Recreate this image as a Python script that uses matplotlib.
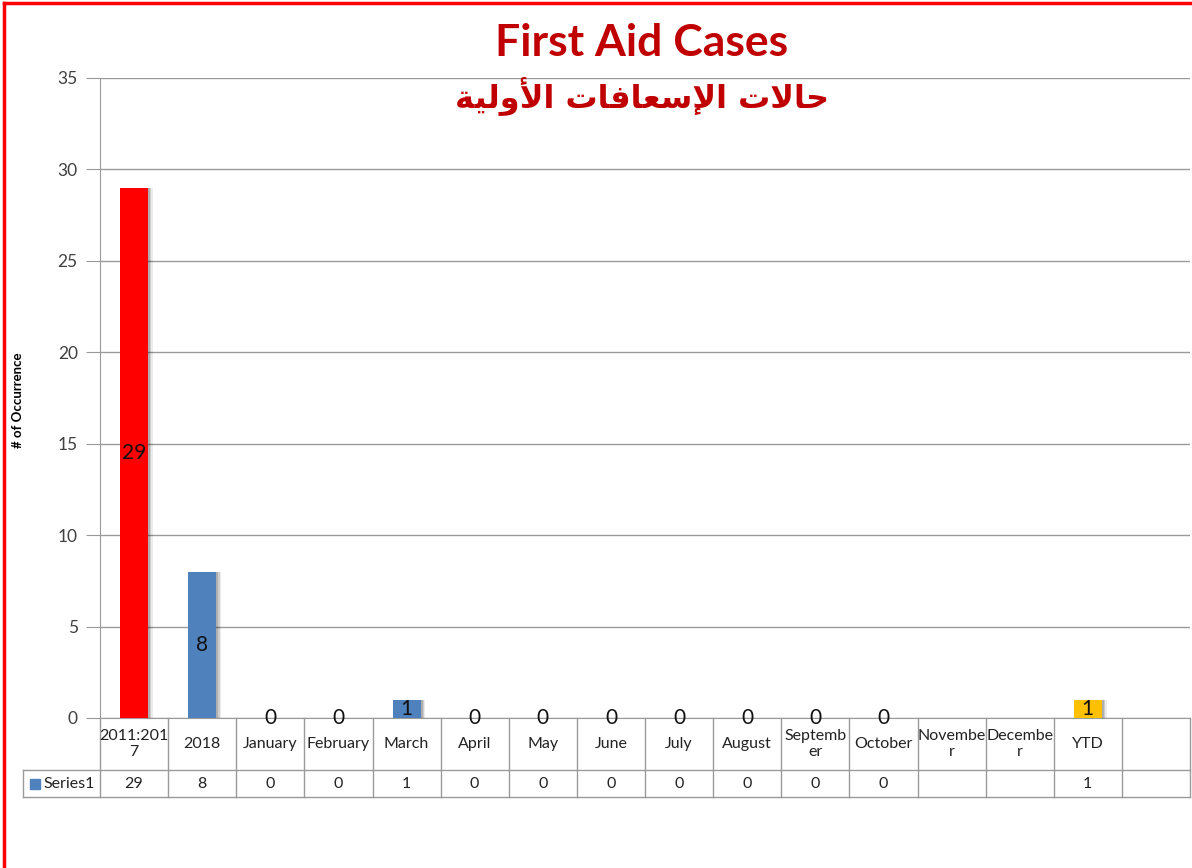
import matplotlib.pyplot as plt
import matplotlib.transforms as mtransforms

# chart values
categories = ['2011:2017', '2018', 'January', 'February', 'March', 'April', 'May',
              'June', 'July', 'August', 'September', 'October', 'November',
              'December', 'YTD', '']
table_labels = ['2011:201\n7', '2018', 'January', 'February', 'March', 'April', 'May',
                'June', 'July', 'August', 'Septemb\ner', 'October', 'Novembe\nr',
                'Decembe\nr', 'YTD', '']
values = [29, 8, 0, 0, 1, 0, 0, 0, 0, 0, 0, 0, None, None, 1, None]
bar_colors = ['#FF0000'] + ['#4F81BD'] * 13 + ['#FFC000', '#4F81BD']

title = 'First Aid Cases'
# "حالات الإسعافات الأولية" written in shaped (presentation) forms, visual order,
# since matplotlib does no Arabic shaping itself
subtitle = ('\uFE94\uFEF4\uFEDF\uFEED\uFEF7\uFE8D '
            '\uFE95\uFE8E\uFED3\uFE8E\uFECC\uFEB3\uFEF9\uFE8D '
            '\uFE95\uFEFB\uFE8E\uFEA3')

plt.rcParams['font.family'] = ['Lato', 'DejaVu Sans']

fig = plt.figure(figsize=(11.92, 8.68), dpi=100)
ax = fig.add_axes([100 / 1192, 1 - 718 / 868, 1090 / 1192, 640 / 868])

grid_c = '#9A9A9A'

for i, v in enumerate(values):
    if v is None:
        continue
    # soft shadow on the right
    ax.bar(i + 0.07, v, width=0.41, color='#000000', alpha=0.08, zorder=2)
    ax.bar(i + 0.05, v, width=0.41, color='#000000', alpha=0.12, zorder=2)
    ax.bar(i + 0.03, v, width=0.41, color='#000000', alpha=0.15, zorder=2)
    ax.bar(i, v, width=0.41, color=bar_colors[i], zorder=3)
    ax.text(i, v / 2, str(v), ha='center', va='center', fontsize=15,
            color='#111111', zorder=4)

ax.set_xlim(-0.5, len(categories) - 0.5)
ax.set_ylim(0, 35)
ax.set_yticks(range(0, 36, 5))
ax.set_xticks([])
ax.yaxis.grid(True, color=grid_c, linewidth=1)
ax.set_axisbelow(True)
for s in ['top', 'right']:
    ax.spines[s].set_visible(False)
for s in ['left', 'bottom']:
    ax.spines[s].set_color(grid_c)
ax.tick_params(axis='y', length=10, color=grid_c, labelsize=12.5,
               labelcolor='#404040', pad=6)

# data table under the axis
trans = mtransforms.blended_transform_factory(ax.transData, ax.transAxes)
px = 1 / 640
r1 = -52 * px
r2 = -79 * px
left = -0.5 - 77 / (1090 / len(categories))
n = len(categories)
kw = dict(color=grid_c, linewidth=1, transform=trans, clip_on=False)
for i in range(n + 1):
    ax.plot([i - 0.5, i - 0.5], [0, r2], **kw)
ax.plot([left, n - 0.5], [r1, r1], **kw)
ax.plot([left, n - 0.5], [r2, r2], **kw)
ax.plot([left, left], [r1, r2], **kw)

for i, lab in enumerate(table_labels):
    ax.text(i, r1 / 2, lab, ha='center', va='center', fontsize=11.5,
            color='#222222', transform=trans, linespacing=1.1)
    v = values[i]
    ax.text(i, (r1 + r2) / 2, '' if v is None else str(v), ha='center',
            va='center', fontsize=11.5, color='#222222', transform=trans)

ax.plot([left + 0.18], [(r1 + r2) / 2], marker='s', markersize=7,
        color='#4F81BD', transform=trans, clip_on=False)
ax.text(left + 0.3, (r1 + r2) / 2, 'Series1', ha='left', va='center',
        fontsize=11.5, color='#222222', transform=trans)

fig.text(18 / 1192, 1 - 400 / 868, '# of Occurrence', rotation=90,
         ha='center', va='center', fontsize=9.5, fontweight='bold')
fig.text(642 / 1192, 1 - 43 / 868, title, ha='center', va='center',
         fontsize=32, fontweight='bold', color='#C00000')
fig.text(642 / 1192, 1 - 97 / 868, subtitle, ha='center', va='center',
         fontsize=23, fontweight='bold', color='#C00000',
         family=['DejaVu Sans'])

# red frame on left and top
fig.add_artist(plt.Line2D([4 / 1192, 4 / 1192], [0, 1 - 3 / 868],
                          color='#FF0000', linewidth=2.5))
fig.add_artist(plt.Line2D([4 / 1192, 1], [1 - 3 / 868, 1 - 3 / 868],
                          color='#FF0000', linewidth=2.5))

fig.savefig('out.png', dpi=100)
